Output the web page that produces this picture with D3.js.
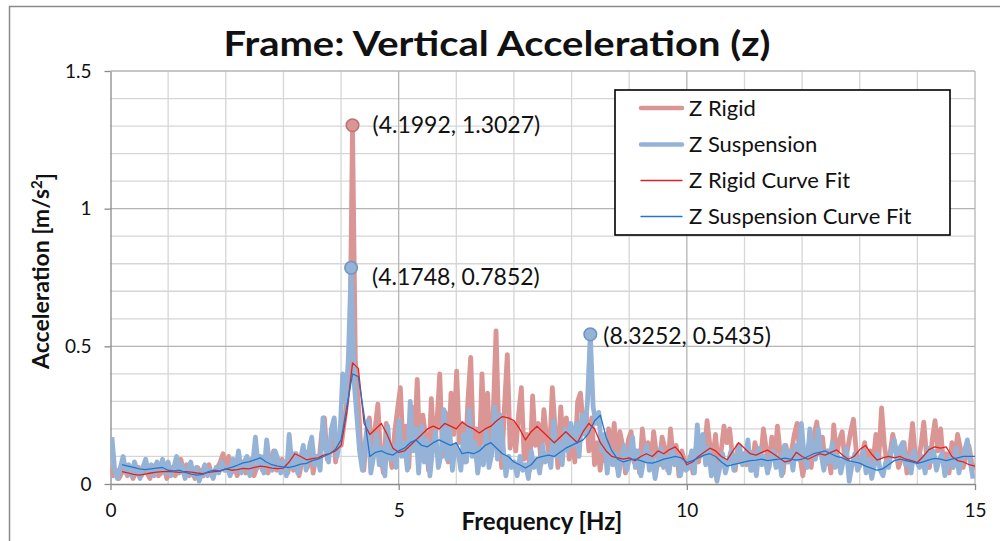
<!DOCTYPE html>
<html><head><meta charset="utf-8">
<script src="https://cdn.jsdelivr.net/npm/d3@7/dist/d3.min.js"></script>
<style>
body{margin:0;background:#fff}
svg{display:block}
text{font-family:Lato,"Open Sans","DejaVu Sans",sans-serif}
</style>
</head><body>
<svg id="chart" width="1000" height="541"></svg>
<script>
// ---------------- DATA ----------------
const titleText = "Frame: Vertical Acceleration (z)";
const xLabelText = "Frequency [Hz]";
const xTicks = [0, 5, 10, 15];
const yTicks = [0, 0.5, 1, 1.5];
const seriesNames = ["Z Rigid", "Z Suspension", "Z Rigid Curve Fit", "Z Suspension Curve Fit"];

// FFT bins (Hz): rigid on even bins, suspension on odd bins of a 1/40.96 Hz grid
const binWidth = 0.048828125;
const rigidStart = 0;
const suspensionStart = 0.0244140625;

const rigidValues = [
 0.06,0.03,0.05,0.02,0.04,0.07,0.03,0.05,0.02,0.04,0.06,0.03,0.05,0.04,0.02,0.05,0.07,0.03,0.04,0.06,0.02,
 0.04,0.06,0.03,0.05,0.09,0.04,0.07,0.03,0.05,0.02,0.06,0.04,0.03,0.05,0.07,0.03,0.04,0.06,0.08,0.11,
 0.05,0.1,0.04,0.07,0.03,0.06,0.08,0.04,0.05,0.09,0.03,0.06,0.1,0.05,0.07,0.04,0.08,0.12,0.05,0.06,0.09,
 0.06,0.04,0.09,0.05,0.11,0.03,0.08,0.12,0.06,0.15,0.04,0.1,0.07,0.18,0.24,0.09,0.13,0.2,0.08,0.16,
 0.14,0.22,0.3,0.42,1.3027,0.45,0.3,0.12,0.05,0.18,0.24,0.08,0.2,0.29,0.1,0.04,0.22,0.13,0.06,0.19,0.27,
 0.35,0.12,0.21,0.06,0.28,0.15,0.38,0.09,0.25,0.17,0.05,0.31,0.14,0.22,0.4,0.1,0.26,0.08,0.33,0.18,
 0.41,0.15,0.22,0.08,0.3,0.46,0.12,0.2,0.07,0.4,0.14,0.33,0.1,0.25,0.556,0.18,0.06,0.28,0.47,0.13,0.22,
 0.12,0.25,0.35,0.09,0.18,0.05,0.32,0.14,0.22,0.07,0.27,0.16,0.1,0.35,0.2,0.06,0.28,0.13,0.24,0.09,
 0.18,0.08,0.3,0.33,0.21,0.26,0.12,0.24,0.07,0.15,0.05,0.13,0.08,0.2,0.1,0.22,0.06,0.19,0.14,0.04,0.16,
 0.19,0.08,0.12,0.04,0.2,0.1,0.15,0.06,0.19,0.11,0.07,0.17,0.13,0.05,0.2,0.09,0.14,0.03,0.12,0.08,
 0.06,0.1,0.04,0.13,0.08,0.16,0.11,0.23,0.14,0.09,0.18,0.06,0.12,0.21,0.15,0.2,0.1,0.05,0.14,0.08,0.11,
 0.07,0.12,0.05,0.15,0.1,0.08,0.2,0.13,0.06,0.17,0.09,0.21,0.11,0.04,0.14,0.08,0.12,0.18,0.22,0.1,
 0.03,0.09,0.14,0.06,0.18,0.225,0.11,0.17,0.07,0.12,0.04,0.215,0.1,0.16,0.19,0.08,0.13,0.19,0.235,0.12,0.06,
 0.1,0.15,0.05,0.12,0.08,0.18,0.09,0.276,0.14,0.07,0.11,0.18,0.13,0.06,0.09,0.15,0.04,0.12,0.22,0.1,
 0.08,0.14,0.225,0.1,0.06,0.16,0.23,0.12,0.2,0.07,0.11,0.04,0.15,0.09,0.18,0.13,0.06,0.1,0.14,0.08,0.05
];

const suspensionValues = [
 0.17,0.05,0.02,0.06,0.1,0.04,0.07,0.03,0.08,0.05,0.02,0.06,0.09,0.04,0.07,0.03,0.08,0.05,0.09,0.04,
 0.08,0.03,0.06,0.1,0.04,0.07,0.02,0.05,0.08,0.03,0.06,0.01,0.04,0.07,0.03,0.05,0.02,0.06,0.04,0.08,0.05,
 0.06,0.03,0.09,0.05,0.12,0.04,0.08,0.1,0.03,0.07,0.17,0.06,0.1,0.04,0.16,0.08,0.05,0.12,0.09,0.04,
 0.08,0.03,0.18,0.06,0.11,0.04,0.09,0.14,0.05,0.12,0.17,0.07,0.1,0.05,0.24,0.13,0.08,0.2,0.24,0.1,0.16,
 0.4,0.3,0.45,0.7852,0.38,0.25,0.12,0.05,0.15,0.23,0.04,0.1,0.18,0.07,0.13,0.03,0.21,0.09,0.14,0.06,
 0.23,0.1,0.15,0.05,0.3,0.12,0.2,0.04,0.21,0.08,0.16,0.03,0.13,0.19,0.06,0.11,0.27,0.09,0.2,0.05,0.14,
 0.12,0.05,0.18,0.08,0.27,0.1,0.15,0.04,0.13,0.07,0.19,0.06,0.11,0.28,0.09,0.25,0.14,0.03,0.1,0.06,
 0.08,0.03,0.1,0.05,0.07,0.02,0.12,0.06,0.09,0.04,0.14,0.08,0.11,0.06,0.23,0.1,0.15,0.07,0.2,0.12,0.22,
 0.14,0.22,0.1,0.25,0.18,0.3,0.5435,0.28,0.22,0.26,0.12,0.18,0.04,0.13,0.07,0.11,0.03,0.09,0.14,0.05,
 0.1,0.17,0.06,0.12,0.03,0.09,0.14,0.05,0.11,0.02,0.08,0.13,0.06,0.1,0.04,0.13,0.07,0.1,0.03,0.08,0.05,
 0.06,0.12,0.04,0.215,0.1,0.18,0.07,0.13,0.03,0.09,0.01,0.06,0.11,0.04,0.08,0.12,0.05,0.1,0.14,0.07,
 0.08,0.16,0.05,0.11,0.03,0.13,0.07,0.1,0.04,0.09,0.12,0.06,0.1,0.03,0.14,0.08,0.12,0.05,0.14,0.09,0.22,
 0.1,0.06,0.2,0.13,0.09,0.2,0.11,0.05,0.12,0.08,0.15,0.06,0.1,0.04,0.09,0.13,0.01,0.07,0.11,0.05,
 0.08,0.12,0.04,0.09,0.02,0.07,0.11,0.05,0.03,0.08,0.06,0.12,0.16,0.09,0.13,0.15,0.07,0.1,0.04,0.12,0.08,
 0.06,0.1,0.04,0.13,0.08,0.12,0.05,0.09,0.11,0.03,0.07,0.1,0.06,0.13,0.04,0.09,0.12,0.16,0.08,0.02
];

// Curve fits (moving average), 0.2 Hz to 15 Hz every 0.1 Hz
const fitStart = 0.2;
const fitStep = 0.1;
const rigidFit = [
 0.045,0.04,0.035,0.032,0.036,0.04,0.043,0.045,
 0.046,0.044,0.042,0.045,0.043,0.04,0.038,0.042,0.045,0.047,
 0.055,0.05,0.052,0.057,0.055,0.06,0.065,0.062,0.058,0.056,
 0.058,0.08,0.11,0.1,0.088,0.092,0.095,0.105,0.11,0.12,
 0.14,0.26,0.44,0.42,0.22,0.18,0.2,0.22,0.18,0.13,
 0.115,0.12,0.14,0.16,0.18,0.2,0.21,0.2,0.22,0.21,
 0.2,0.225,0.21,0.2,0.185,0.2,0.21,0.23,0.245,0.24,
 0.23,0.2,0.16,0.19,0.21,0.19,0.17,0.15,0.17,0.19,
 0.17,0.15,0.19,0.22,0.2,0.15,0.12,0.1,0.095,0.09,
 0.095,0.085,0.1,0.11,0.1,0.12,0.11,0.125,0.135,0.11,
 0.07,0.08,0.1,0.115,0.13,0.12,0.1,0.088,0.12,0.15,
 0.13,0.11,0.105,0.115,0.123,0.11,0.095,0.08,0.085,0.115,
 0.1,0.09,0.1,0.11,0.105,0.115,0.124,0.105,0.09,0.1,
 0.125,0.14,0.11,0.087,0.095,0.1,0.095,0.1,0.09,0.085,
 0.078,0.1,0.125,0.135,0.13,0.135,0.1,0.085,0.08,0.07,
 0.065
];
const suspensionFit = [
 0.07,0.065,0.06,0.055,0.052,0.055,0.058,0.06,
 0.05,0.048,0.05,0.042,0.036,0.032,0.035,0.045,0.05,0.048,
 0.055,0.06,0.068,0.077,0.08,0.088,0.095,0.08,0.07,0.065,
 0.062,0.06,0.065,0.072,0.075,0.085,0.09,0.1,0.11,0.125,
 0.16,0.28,0.4,0.39,0.25,0.1,0.115,0.12,0.11,0.105,
 0.12,0.13,0.15,0.16,0.14,0.135,0.15,0.16,0.15,0.14,
 0.15,0.11,0.115,0.11,0.12,0.14,0.15,0.13,0.11,0.1,
 0.08,0.07,0.058,0.07,0.095,0.1,0.105,0.1,0.115,0.13,
 0.14,0.15,0.16,0.185,0.23,0.25,0.17,0.12,0.09,0.08,
 0.087,0.09,0.085,0.078,0.076,0.082,0.09,0.095,0.1,0.095,
 0.078,0.085,0.095,0.105,0.11,0.1,0.08,0.065,0.07,0.075,
 0.08,0.085,0.087,0.09,0.085,0.088,0.09,0.094,0.09,0.087,
 0.09,0.1,0.11,0.115,0.12,0.11,0.1,0.095,0.085,0.08,
 0.076,0.065,0.058,0.05,0.055,0.07,0.085,0.09,0.085,0.08,
 0.075,0.08,0.088,0.093,0.09,0.085,0.09,0.095,0.1,0.1,
 0.1
];

// Peak annotations [frequency, acceleration, series index]
const peakFreqs = [4.1992, 4.1748, 8.3252];
const peakValues = [1.3027, 0.7852, 0.5435];
const peakSeries = [0, 1, 1];

// ---------------- STYLE ----------------
const W = 1000, H = 541;
const plot = {left: 110.5, right: 975, top: 71, bottom: 484};
const rawColors = ["#d99694", "#95b3d7"];
const fitColors = ["#e3201f", "#2277cc"];
const markerStroke = ["#c0706e", "#6f93c4"];
const labelOffsets = [[20, 0], [21, 9], [13, 2]];

const svg = d3.select("#chart");
svg.append("rect").attr("width", W).attr("height", H).attr("fill", "#fff");
svg.append("rect").attr("x", 9.5).attr("y", 6.5).attr("width", 1000).attr("height", 560)
  .attr("fill", "none").attr("stroke", "#8a8a8a").attr("stroke-width", 1.5);

const x = d3.scaleLinear().domain([0, 15]).range([plot.left, plot.right]);
const y = d3.scaleLinear().domain([0, 1.5]).range([plot.bottom, plot.top]);

// gridlines
const grid = svg.append("g");
const minorX = d3.range(0, 16, 1).filter(v => v % 5 !== 0);
const minorY = d3.range(1, 15).map(v => v / 10).filter(v => Math.abs(v * 2 - Math.round(v * 2)) > 1e-6);
grid.selectAll(".mx").data(minorX).join("line")
  .attr("x1", d => x(d)).attr("x2", d => x(d)).attr("y1", plot.top).attr("y2", plot.bottom)
  .attr("stroke", "#d6d6d6").attr("stroke-width", 1.3);
grid.selectAll(".my").data(minorY).join("line")
  .attr("y1", d => y(d)).attr("y2", d => y(d)).attr("x1", plot.left).attr("x2", plot.right)
  .attr("stroke", "#d6d6d6").attr("stroke-width", 1.3);
grid.selectAll(".Mx").data(xTicks.slice(1)).join("line")
  .attr("x1", d => x(d)).attr("x2", d => x(d)).attr("y1", plot.top).attr("y2", plot.bottom)
  .attr("stroke", "#b4b4b4").attr("stroke-width", 1.3);
grid.selectAll(".My").data(yTicks.slice(1)).join("line")
  .attr("y1", d => y(d)).attr("y2", d => y(d)).attr("x1", plot.left).attr("x2", plot.right)
  .attr("stroke", "#b4b4b4").attr("stroke-width", 1.3);

// axes
const xAxis = svg.append("g").attr("transform", `translate(0,${plot.bottom})`)
  .call(d3.axisBottom(x).tickValues(xTicks).tickSize(6).tickSizeOuter(0).tickPadding(14).tickFormat(d3.format("d")));
const yAxis = svg.append("g").attr("transform", `translate(${plot.left},0)`)
  .call(d3.axisLeft(y).tickValues(yTicks).tickSize(6).tickSizeOuter(0).tickPadding(13).tickFormat(d => String(d)));
[xAxis, yAxis].forEach(g => {
  g.select(".domain").attr("stroke", "#8a8a8a").attr("stroke-width", 1.3);
  g.selectAll(".tick line").attr("stroke", "#8a8a8a").attr("stroke-width", 1.3);
  g.selectAll(".tick text").attr("fill", "#111").style("font-size", "19px")
    .style("font-family", "Lato, 'Open Sans', sans-serif");
});

// series
const clipId = "plotclip";
svg.append("clipPath").attr("id", clipId).append("rect")
  .attr("x", plot.left).attr("y", plot.top - 10).attr("width", plot.right - plot.left).attr("height", plot.bottom - plot.top + 12);
const line = d3.line().x(d => x(d[0])).y(d => y(d[1]));
const rigidPts = rigidValues.map((v, i) => [rigidStart + i * binWidth, v]);
const suspPts = suspensionValues.map((v, i) => [suspensionStart + i * binWidth, v]);
const rigidFitPts = rigidFit.map((v, i) => [fitStart + i * fitStep, v]);
const suspFitPts = suspensionFit.map((v, i) => [fitStart + i * fitStep, v]);
const series = svg.append("g").attr("clip-path", `url(#${clipId})`);
series.append("path").datum(rigidPts).attr("d", line).attr("fill", "none")
  .attr("stroke", rawColors[0]).attr("stroke-width", 4.8).attr("stroke-linejoin", "round");
series.append("path").datum(suspPts).attr("d", line).attr("fill", "none")
  .attr("stroke", rawColors[1]).attr("stroke-width", 4.8).attr("stroke-linejoin", "round");
series.append("path").datum(rigidFitPts).attr("d", line).attr("fill", "none")
  .attr("stroke", fitColors[0]).attr("stroke-width", 1.3).attr("stroke-linejoin", "round");
series.append("path").datum(suspFitPts).attr("d", line).attr("fill", "none")
  .attr("stroke", fitColors[1]).attr("stroke-width", 1.3).attr("stroke-linejoin", "round");

// markers + labels
const peaks = peakFreqs.map((f, i) => ({f, v: peakValues[i], s: peakSeries[i], o: labelOffsets[i]}));
svg.append("g").selectAll("circle").data(peaks).join("circle")
  .attr("cx", d => x(d.f)).attr("cy", d => y(d.v)).attr("r", 6.3)
  .attr("fill", d => rawColors[d.s]).attr("stroke", d => markerStroke[d.s]).attr("stroke-width", 1.5);
svg.append("g").selectAll("text").data(peaks).join("text")
  .attr("x", d => x(d.f) + d.o[0]).attr("y", d => y(d.v) + d.o[1]).attr("dy", "0.35em")
  .style("font-size", "23px").attr("fill", "#111")
  .text(d => `(${d.f.toFixed(4)}, ${d.v.toFixed(4)})`);

// title & axis labels
svg.append("text").attr("x", 497).attr("y", 56).attr("text-anchor", "middle")
  .style("font-size", "35px").style("font-weight", "bold").attr("fill", "#111")
  .attr("textLength", 547).attr("lengthAdjust", "spacingAndGlyphs").text(titleText);
svg.append("text").attr("x", 542).attr("y", 530).attr("text-anchor", "middle")
  .style("font-size", "24px").style("font-weight", "bold").attr("fill", "#111").text(xLabelText);
const yl = svg.append("text").attr("transform", "translate(49,271) rotate(-90)").attr("text-anchor", "middle")
  .style("font-size", "23px").style("font-weight", "bold").attr("fill", "#111");
yl.append("tspan").text("Acceleration [m/s");
yl.append("tspan").attr("dy", "-0.45em").style("font-size", "15px").text("2");
yl.append("tspan").attr("dy", "0.45em").text("]");

// legend
const lg = svg.append("g");
lg.append("rect").attr("x", 615).attr("y", 90).attr("width", 335).attr("height", 145)
  .attr("fill", "#fff").attr("stroke", "#000").attr("stroke-width", 1.6);
const legendRowsY = [108, 144.5, 180.5, 216.5];
const legendColors = [rawColors[0], rawColors[1], fitColors[0], fitColors[1]];
const legendWidths = [4.5, 4.5, 1.3, 1.3];
seriesNames.forEach((name, i) => {
  lg.append("line").attr("x1", 641).attr("x2", 682).attr("y1", legendRowsY[i]).attr("y2", legendRowsY[i])
    .attr("stroke", legendColors[i]).attr("stroke-width", legendWidths[i]).attr("stroke-linecap", "round");
  lg.append("text").attr("x", 689).attr("y", legendRowsY[i]).attr("dy", "0.35em")
    .style("font-size", "22px").attr("fill", "#111").text(name);
});
</script>
</body></html>
